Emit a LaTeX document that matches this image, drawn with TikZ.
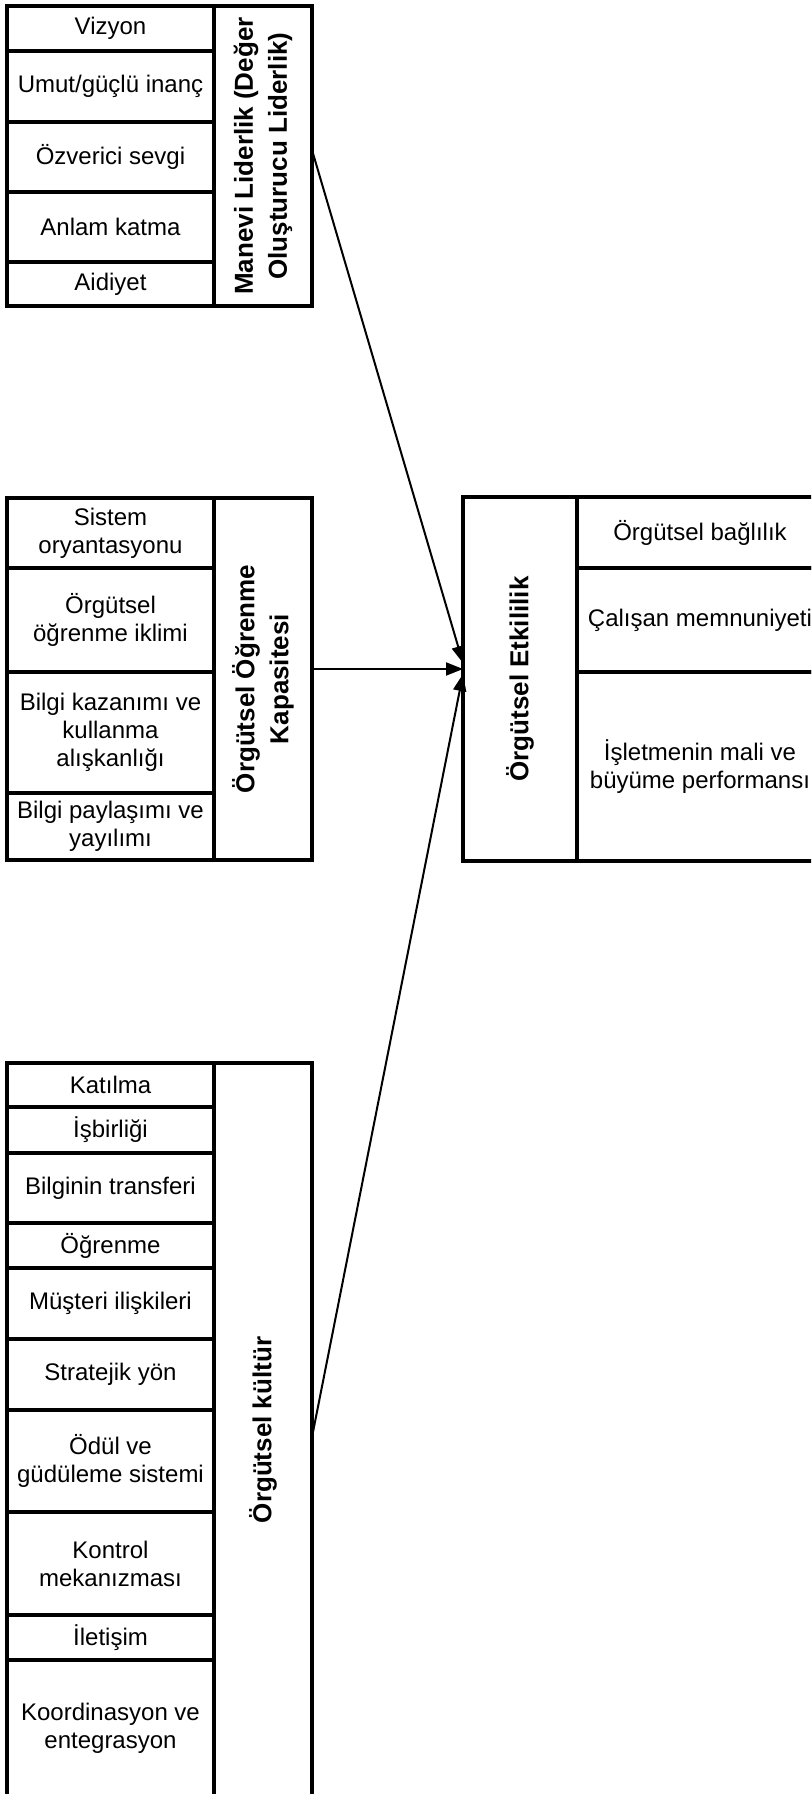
\documentclass[tikz,border=0pt]{standalone}
\usepackage{fontspec}
\setmainfont{Liberation Sans}
\usetikzlibrary{arrows.meta}

\begin{document}
\begin{tikzpicture}[x=0.5pt, y=-0.5pt,
		cell/.style={draw, line width=1.6pt, anchor=north west, inner sep=0pt, outer sep=0pt, minimum width=103.5pt, align=center, font=\fontsize{12}{14}\selectfont},
		titlecol/.style={draw, line width=1.6pt, anchor=north west, inner sep=0pt, outer sep=0pt, minimum width=49pt},
		titletext/.style={rotate=90, align=center, font=\fontsize{13}{17}\selectfont\bfseries},
		conn/.style={line width=1pt, -{Triangle[length=8.5pt, width=6.5pt]}}]
		\useasboundingbox (0,0) rectangle (811,1794);
		\clip (0,0) rectangle (811,1794);

		% manevi liderlik
		\node[cell, minimum height=22.5pt] at (7,6) (viz) {Vizyon};
		\node[cell, minimum height=35.5pt] at (7,51) (umut) {Umut/güçlü inanç};
		\node[cell, minimum height=35pt] at (7,122) (ozv) {Özverici sevgi};
		\node[cell, minimum height=35pt] at (7,192) (anlam) {Anlam katma};
		\node[cell, minimum height=22pt] at (7,262) (aid) {Aidiyet};
		\node[titlecol, minimum height=150pt] at (214,6) (manevi) {};
		\node[titletext] at (manevi.center) (manevilbl) {Manevi Liderlik (Değer\\Oluşturucu Liderlik)};

		% örgütsel öğrenme kapasitesi
		\node[cell, minimum height=35pt] at (7,498) (sis) {Sistem\\oryantasyonu};
		\node[cell, minimum height=52pt] at (7,568) (ogi) {Örgütsel\\öğrenme iklimi};
		\node[cell, minimum height=60.5pt] at (7,672) (bkk) {Bilgi kazanımı ve\\kullanma\\alışkanlığı};
		\node[cell, minimum height=33.5pt] at (7,793) (bpy) {Bilgi paylaşımı ve\\yayılımı};
		\node[titlecol, minimum height=181pt] at (214,498) (ogk) {};
		\node[titletext] at (ogk.center) (ogklbl) {Örgütsel Öğrenme\\Kapasitesi};

		% örgütsel etkililik
		\node[titlecol, minimum width=57pt, minimum height=182pt] at (463,497) (etk) {};
		\node[titletext] at (etk.center) (etklbl) {Örgütsel Etkililik};
		\node[cell, minimum width=123pt, minimum height=35.5pt] at (577,497) (bag) {Örgütsel bağlılık};
		\node[cell, minimum width=123pt, minimum height=52pt] at (577,568) (mem) {Çalışan memnuniyeti};
		\node[cell, minimum width=123pt, minimum height=94.5pt] at (577,672) (isl) {İşletmenin mali ve\\büyüme performansı};

		% örgütsel kültür
		\node[cell, minimum height=22pt] at (7,1063) (kat) {Katılma};
		\node[cell, minimum height=23pt] at (7,1107) (isb) {İşbirliği};
		\node[cell, minimum height=35pt] at (7,1153) (bt) {Bilginin transferi};
		\node[cell, minimum height=22.5pt] at (7,1223) (ogr) {Öğrenme};
		\node[cell, minimum height=35.5pt] at (7,1268) (mus) {Müşteri ilişkileri};
		\node[cell, minimum height=35.5pt] at (7,1339) (str) {Stratejik yön};
		\node[cell, minimum height=51pt] at (7,1410) (odul) {Ödül ve\\güdüleme sistemi};
		\node[cell, minimum height=51.5pt] at (7,1512) (kon) {Kontrol\\mekanızması};
		\node[cell, minimum height=22.5pt] at (7,1615) (ilet) {İletişim};
		\node[cell, minimum height=68.5pt] at (7,1660) (koor) {Koordinasyon ve\\entegrasyon};
		\node[titlecol, minimum height=367pt] at (214,1063) (kul) {};
		\node[titletext] at (kul.center) (kullbl) {Örgütsel kültür};

		% oklar
		\draw[conn] ([yshift=3pt]manevi.east) -- ([yshift=8pt]etk.west);
		\draw[conn] ([yshift=5pt]ogk.east) -- ([yshift=5pt]etk.west);
		\draw[conn] ([yshift=-3.5pt]kul.east) -- ([yshift=2.5pt]etk.west);
	\end{tikzpicture}
\end{document}
